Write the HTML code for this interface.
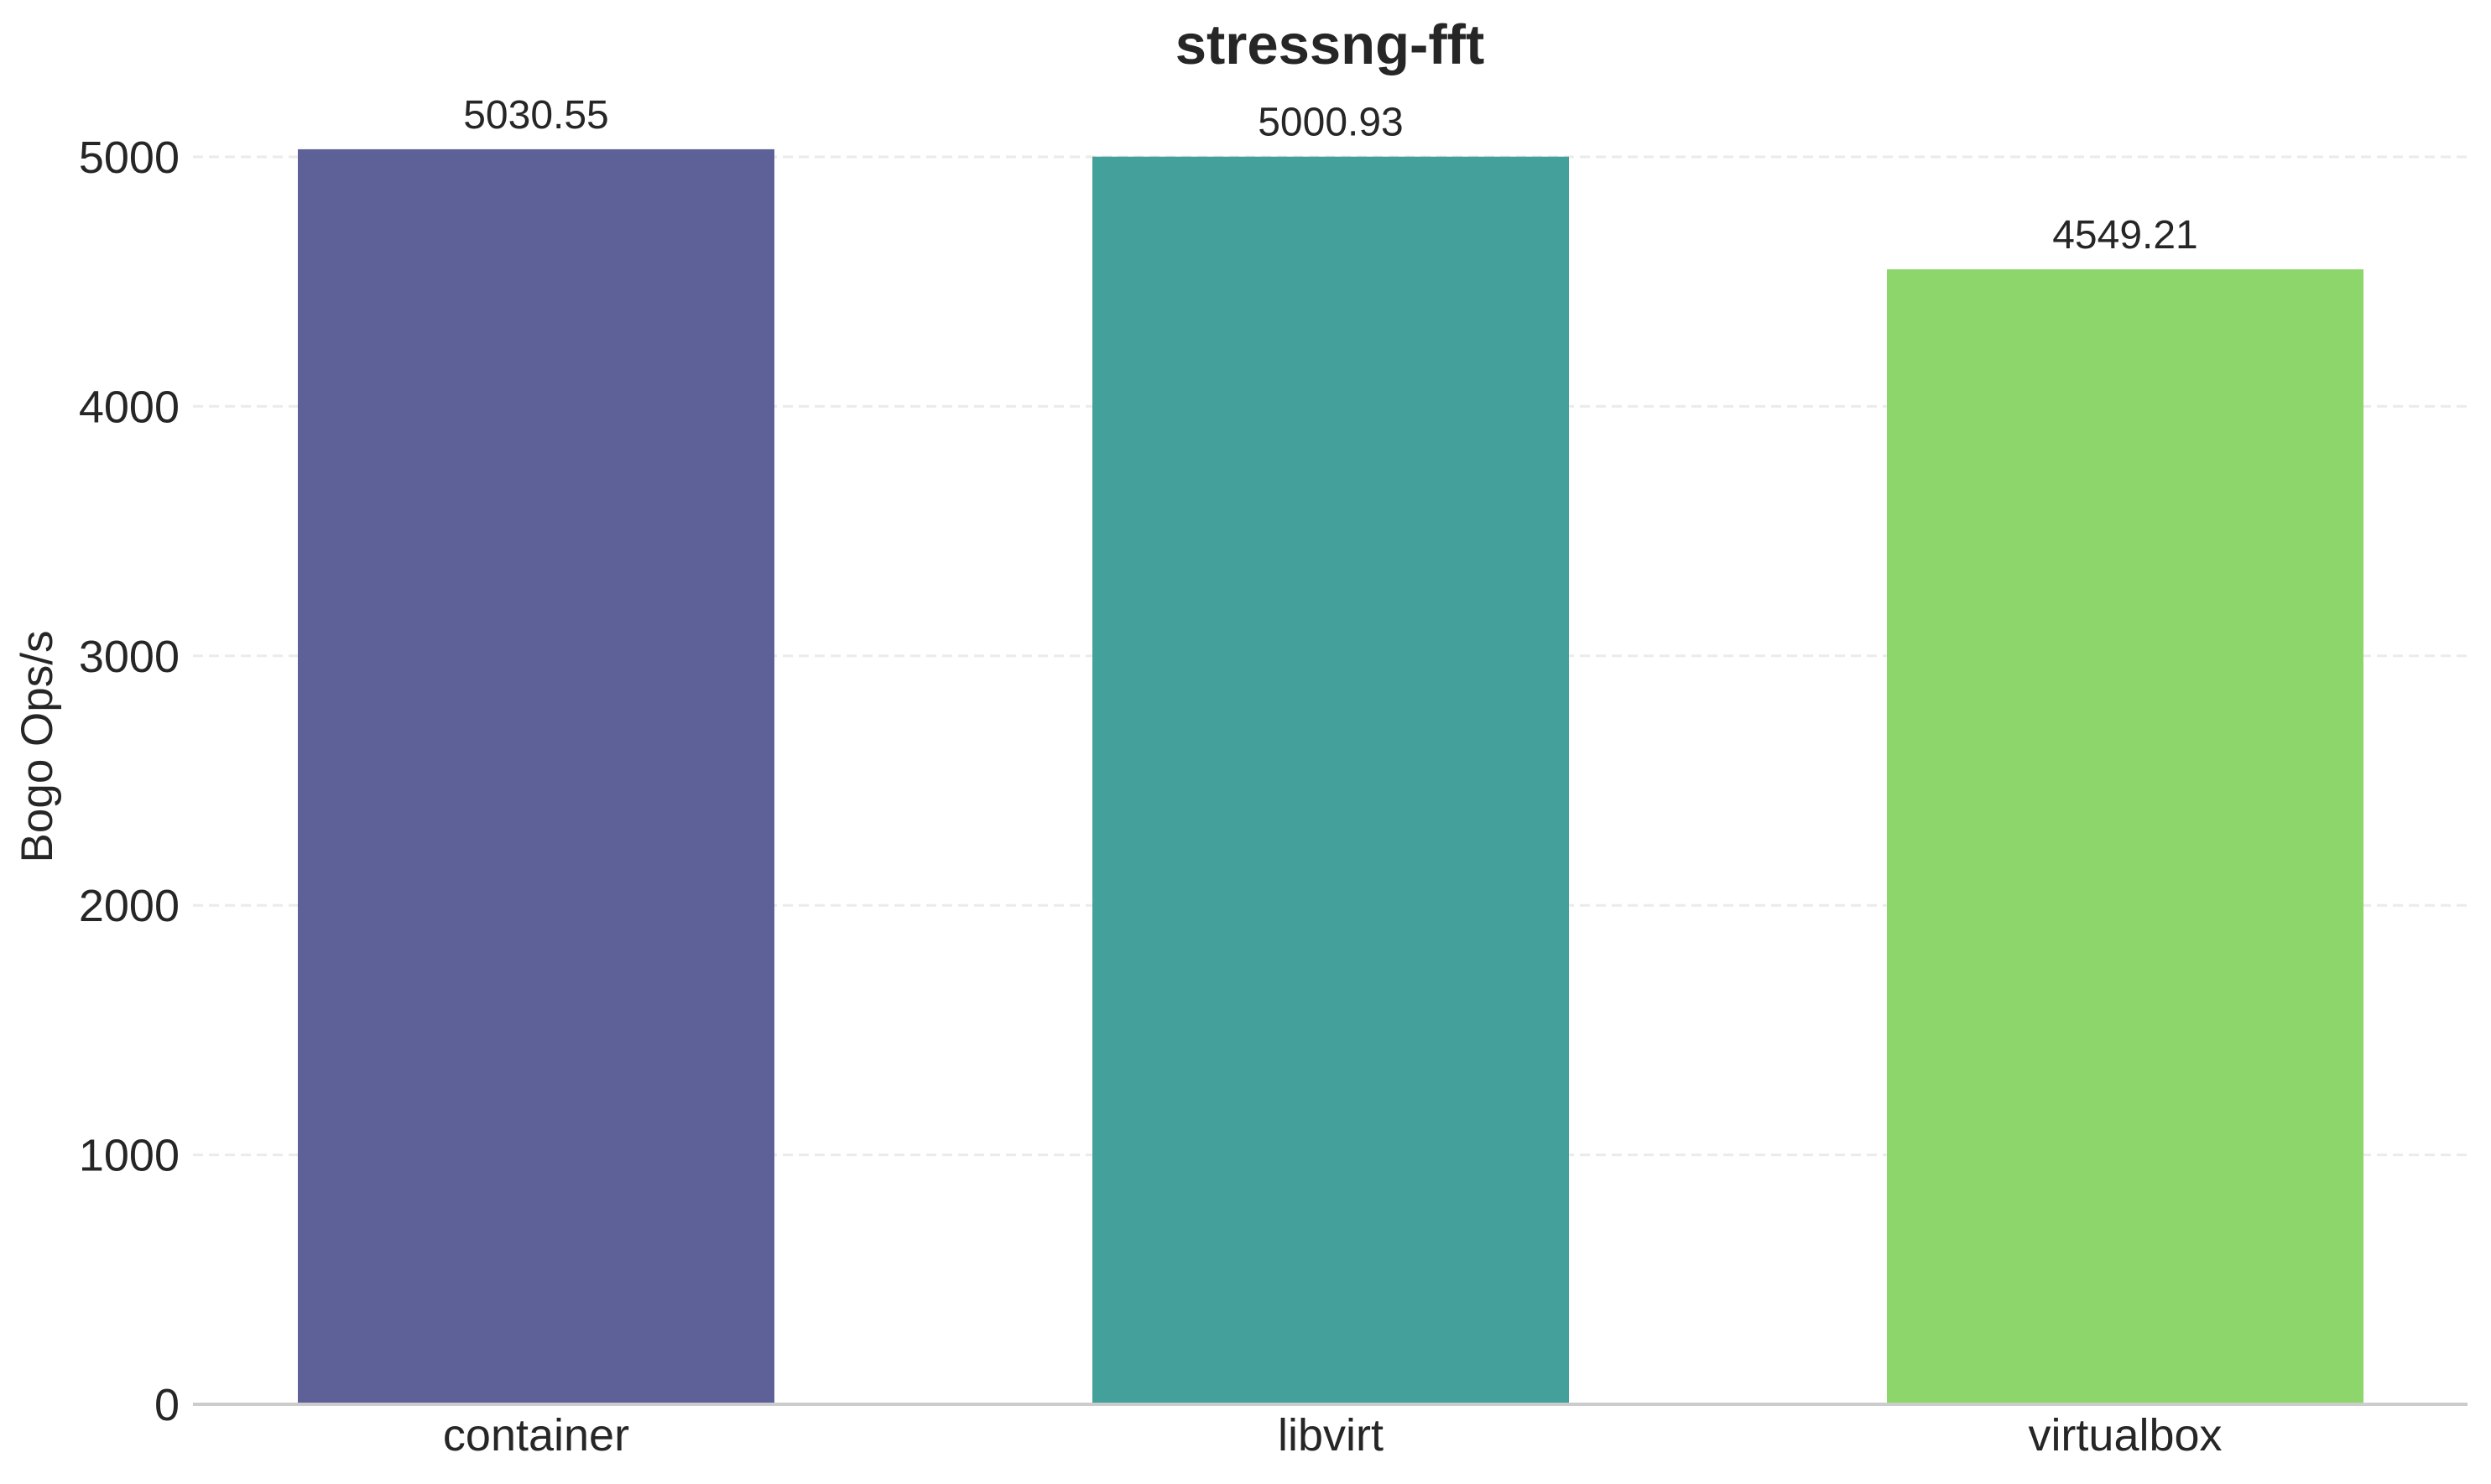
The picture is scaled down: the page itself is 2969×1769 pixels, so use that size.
<!DOCTYPE html>
<html><head><meta charset="utf-8"><style>
html,body{margin:0;padding:0;background:#fff;}
svg{display:block;font-family:"Liberation Sans",sans-serif;}
</style></head><body>
<svg id="chart" width="2969" height="1769" viewBox="0 0 2969 1769" xmlns="http://www.w3.org/2000/svg">
<rect width="2969" height="1769" fill="#fff"/>
<text x="1585" y="76" text-anchor="middle" font-size="67" font-weight="bold" fill="#262626">stressng-fft</text>
<text transform="translate(62,890) rotate(-90)" text-anchor="middle" font-size="53" fill="#262626">Bogo Ops/s</text>
<g id="grid"></g><g id="bars"></g><g id="labels"></g>
<line x1="230" x2="2941" y1="1674" y2="1674" stroke="#cccccc" stroke-width="4"/>
</svg>
<script>
const categories = ["container", "libvirt", "virtualbox"];
const values = [5030.55, 5000.93, 4549.21];
const valueLabels = ["5030.55", "5000.93", "4549.21"];
const yTicks = [0, 1000, 2000, 3000, 4000, 5000];
const colors = ["#5e6198", "#43a09b", "#8dd66b"];

const NS = "http://www.w3.org/2000/svg";
const y0 = 1674, pxPerUnit = (1674 - 187) / 5000;
const yScale = v => y0 - v * pxPerUnit;
const xStep = 947, xFirst = 639, barW = 568;
const xScale = i => xFirst + i * xStep;
function mk(tag, attrs, parent) {
  const e = document.createElementNS(NS, tag);
  for (const k in attrs) e.setAttribute(k, attrs[k]);
  parent.appendChild(e);
  return e;
}
const grid = document.getElementById("grid");
const bars = document.getElementById("bars");
const labels = document.getElementById("labels");
yTicks.forEach(t => {
  const y = yScale(t);
  if (t > 0) {
    const g = mk("line", {x1: 230, x2: 2941, y1: y, y2: y, stroke: "#ebebeb", "stroke-width": 3, "stroke-dasharray": "12,7"}, grid);
    
    
  }
  const tx = mk("text", {x: 214, y: y + 19, "text-anchor": "end", "font-size": 54, fill: "#262626"}, labels);
  tx.textContent = String(t);
  
  
});
categories.forEach((c, i) => {
  const cx = xScale(i), top = yScale(values[i]);
  const r = mk("rect", {x: cx - barW / 2, y: top, width: barW, height: y0 - top, fill: colors[i]}, bars);
  
  
  const vl = mk("text", {x: cx, y: top - 25, "text-anchor": "middle", "font-size": 48, fill: "#262626"}, labels);
  vl.textContent = valueLabels[i];
  
  
  const xl = mk("text", {x: cx, y: 1729, "text-anchor": "middle", "font-size": 54, fill: "#262626"}, labels);
  xl.textContent = c;
  
  
});
</script>
</body></html>
